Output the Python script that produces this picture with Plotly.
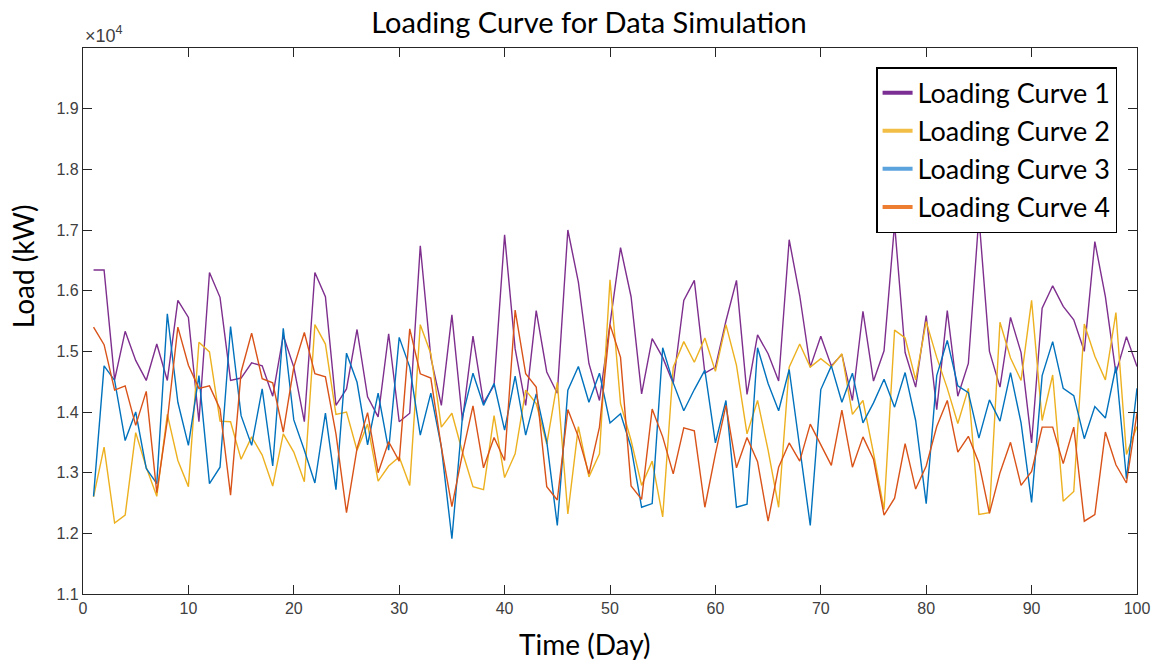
import plotly.graph_objects as go

# Daily load readings (kW) for four simulated loading curves
days = list(range(1, 101))

curve1 = [16340, 16340, 14530, 15330, 14850, 14520, 15120, 14520, 15840, 15560,
          13840, 16300, 15890, 14520, 14560, 14810, 14760, 14260, 15260, 14740,
          13840, 16300, 15900, 14110, 14380, 15360, 14250, 13920, 15290, 13840,
          13980, 16740, 14900, 14110, 15600, 13860, 15250, 14150, 14440, 16920,
          15040, 14110, 15670, 14660, 14310, 17000, 16140, 14800, 14190, 15430,
          16710, 15900, 14300, 15210, 14900, 14470, 15840, 16170, 14640, 14740,
          15500, 16170, 14290, 15270, 14960, 14510, 16840, 15920, 14740, 15250,
          14760, 14950, 14190, 15660, 14510, 15010, 17100, 14980, 14410, 15590,
          14040, 15670, 14260, 14800, 17220, 15000, 14410, 15560, 14980, 13490,
          15710, 16080, 15740, 15520, 15000, 16810, 15900, 14640, 15240, 14750]

curve2 = [12600, 13420, 12170, 12300, 13660, 13090, 12610, 13960, 13200, 12770,
          15150, 14990, 13850, 13840, 13220, 13590, 13290, 12780, 13640, 13340,
          12850, 15440, 15120, 13960, 14000, 13370, 13800, 12860, 13110, 13260,
          12790, 15440, 14960, 13750, 13980, 13340, 12770, 12720, 13940, 12920,
          13310, 14360, 14140, 13470, 14490, 12320, 13760, 12930, 13310, 16180,
          14140, 13530, 12790, 13190, 12270, 14740, 15160, 14820, 15220, 14670,
          15440, 14770, 13640, 14190, 13370, 12430, 14740, 15120, 14740, 14880,
          14740, 14960, 13960, 14190, 13320, 12390, 15350, 15220, 14530, 15490,
          14900, 14390, 13810, 14390, 12310, 12340, 15480, 14890, 14520, 15840,
          13860, 14610, 12530, 12690, 15450, 14920, 14530, 15640, 13300, 13760]

curve3 = [12610, 14760, 14520, 13530, 14000, 13070, 12820, 15620, 14160, 13450,
          14600, 12820, 13090, 15410, 13940, 13450, 14380, 13110, 15380, 13870,
          13370, 12830, 13980, 12720, 14970, 14490, 13460, 14310, 13370, 15230,
          14740, 13620, 14310, 13420, 11910, 13920, 14640, 14110, 14470, 13700,
          14590, 13620, 14300, 13510, 12130, 14360, 14750, 14160, 14640, 13820,
          13970, 13420, 12430, 12490, 15060, 14480, 14020, 14370, 14690, 13490,
          14190, 12430, 12480, 15060, 14470, 14020, 14700, 13420, 12130, 14370,
          14760, 14160, 14640, 13820, 14150, 14540, 14080, 14650, 13860, 12490,
          14600, 15180, 14430, 14320, 13570, 14200, 13850, 14650, 13820, 12510,
          14600, 15160, 14390, 14270, 13560, 14090, 13900, 14750, 12900, 14390]

curve4 = [15400, 15110, 14360, 14430, 13780, 14340, 12670, 13860, 15400, 14770,
          14390, 14430, 14050, 12630, 14660, 15300, 14550, 14480, 13670, 14740,
          15310, 14630, 14580, 13640, 12340, 13400, 13990, 13000, 13510, 13190,
          15370, 14630, 14560, 13420, 12440, 13310, 14100, 13080, 13580, 13200,
          15680, 14630, 14410, 12770, 12550, 14040, 13590, 12980, 13750, 15440,
          14900, 12780, 12560, 14050, 13590, 12980, 13740, 13690, 12430, 13310,
          14110, 13080, 13580, 13180, 12200, 13090, 13490, 13190, 13800, 13450,
          13120, 14030, 13090, 13590, 13220, 12300, 12580, 13480, 12730, 13110,
          13760, 14190, 13340, 13600, 13160, 12330, 13000, 13500, 12790, 13020,
          13750, 13750, 13150, 13750, 12200, 12310, 13670, 13130, 12830, 13980]

names = ["Loading Curve 1", "Loading Curve 2", "Loading Curve 3", "Loading Curve 4"]
series = [curve1, curve2, curve3, curve4]
line_colors = ["#7E2F8E", "#EDB120", "#0072BD", "#D95319"]
legend_colors = ["#7B2E93", "#F2BE45", "#5BA3DC", "#ED7D31"]

y_ticks = [11000, 12000, 13000, 14000, 15000, 16000, 17000, 18000, 19000]
y_tick_text = ["1.1", "1.2", "1.3", "1.4", "1.5", "1.6", "1.7", "1.8", "1.9"]
x_ticks = list(range(0, 101, 10))

fig = go.Figure()

for name, vals, col in zip(names, series, line_colors):
    fig.add_trace(go.Scatter(
        x=days, y=vals, mode="lines", name=name,
        line=dict(color=col, width=1.4), showlegend=False,
    ))

# legend entries with thicker swatches
for i, (name, col) in enumerate(zip(names, legend_colors)):
    fig.add_trace(go.Scatter(
        x=[None], y=[None], mode="lines", name=name,
        line=dict(color=col, width=4), legendgroup=f"g{i}",
        showlegend=True,
    ))

axis_col = "#262626"
label_font = dict(family="Lato, sans-serif", size=28, color="black")
tick_font = dict(family="Liberation Sans, Arial, sans-serif", size=16, color="#404040")

fig.update_layout(
    width=1162, height=664,
    margin=dict(l=83, r=21, t=48, b=70),
    paper_bgcolor="white", plot_bgcolor="white",
    title=dict(text="Loading Curve for Data Simulation", x=589 / 1162, xref="container",
               xanchor="center", y=0.965, yanchor="middle",
               font=dict(family="Lato, sans-serif", size=29, color="black")),
    xaxis=dict(range=[0, 100], tickvals=x_ticks, ticks="inside", ticklen=9,
               tickcolor=axis_col, tickwidth=1, showline=True, linecolor=axis_col,
               linewidth=1.2, mirror="ticks", showgrid=False, zeroline=False,
               tickfont=tick_font),
    yaxis=dict(range=[11000, 20000], tickvals=y_ticks, ticktext=y_tick_text,
               ticks="inside", ticklen=9, tickcolor=axis_col, tickwidth=1,
               showline=True, linecolor=axis_col, linewidth=1.2, mirror="ticks",
               showgrid=False, zeroline=False, tickfont=tick_font),
    legend=dict(x=(1121 - 83) / 1058, y=0.965, xanchor="right", yanchor="top",
                bgcolor="white", bordercolor="black", borderwidth=1.5,
                font=dict(family="Lato, sans-serif", size=27, color="black"),
                traceorder="grouped", tracegroupgap=0),
    annotations=[
        dict(text="×10<sup>4</sup>", xref="paper", yref="paper",
             x=0, y=1.0, xanchor="left", yanchor="bottom", showarrow=False,
             font=dict(family="Liberation Sans, Arial, sans-serif", size=18,
                       color="#404040")),
        dict(text="Time (Day)", xref="paper", yref="paper",
             x=(586 - 83) / 1058, y=-(644 - 594) / 546, xanchor="center",
             yanchor="middle", showarrow=False, font=label_font),
        dict(text="Load (kW)", xref="paper", yref="paper",
             x=-(83 - 23) / 1058, y=(594 - 266) / 546, xanchor="center",
             yanchor="middle", textangle=-90, showarrow=False, font=label_font),
    ],
)

fig.write_html("out.html")
